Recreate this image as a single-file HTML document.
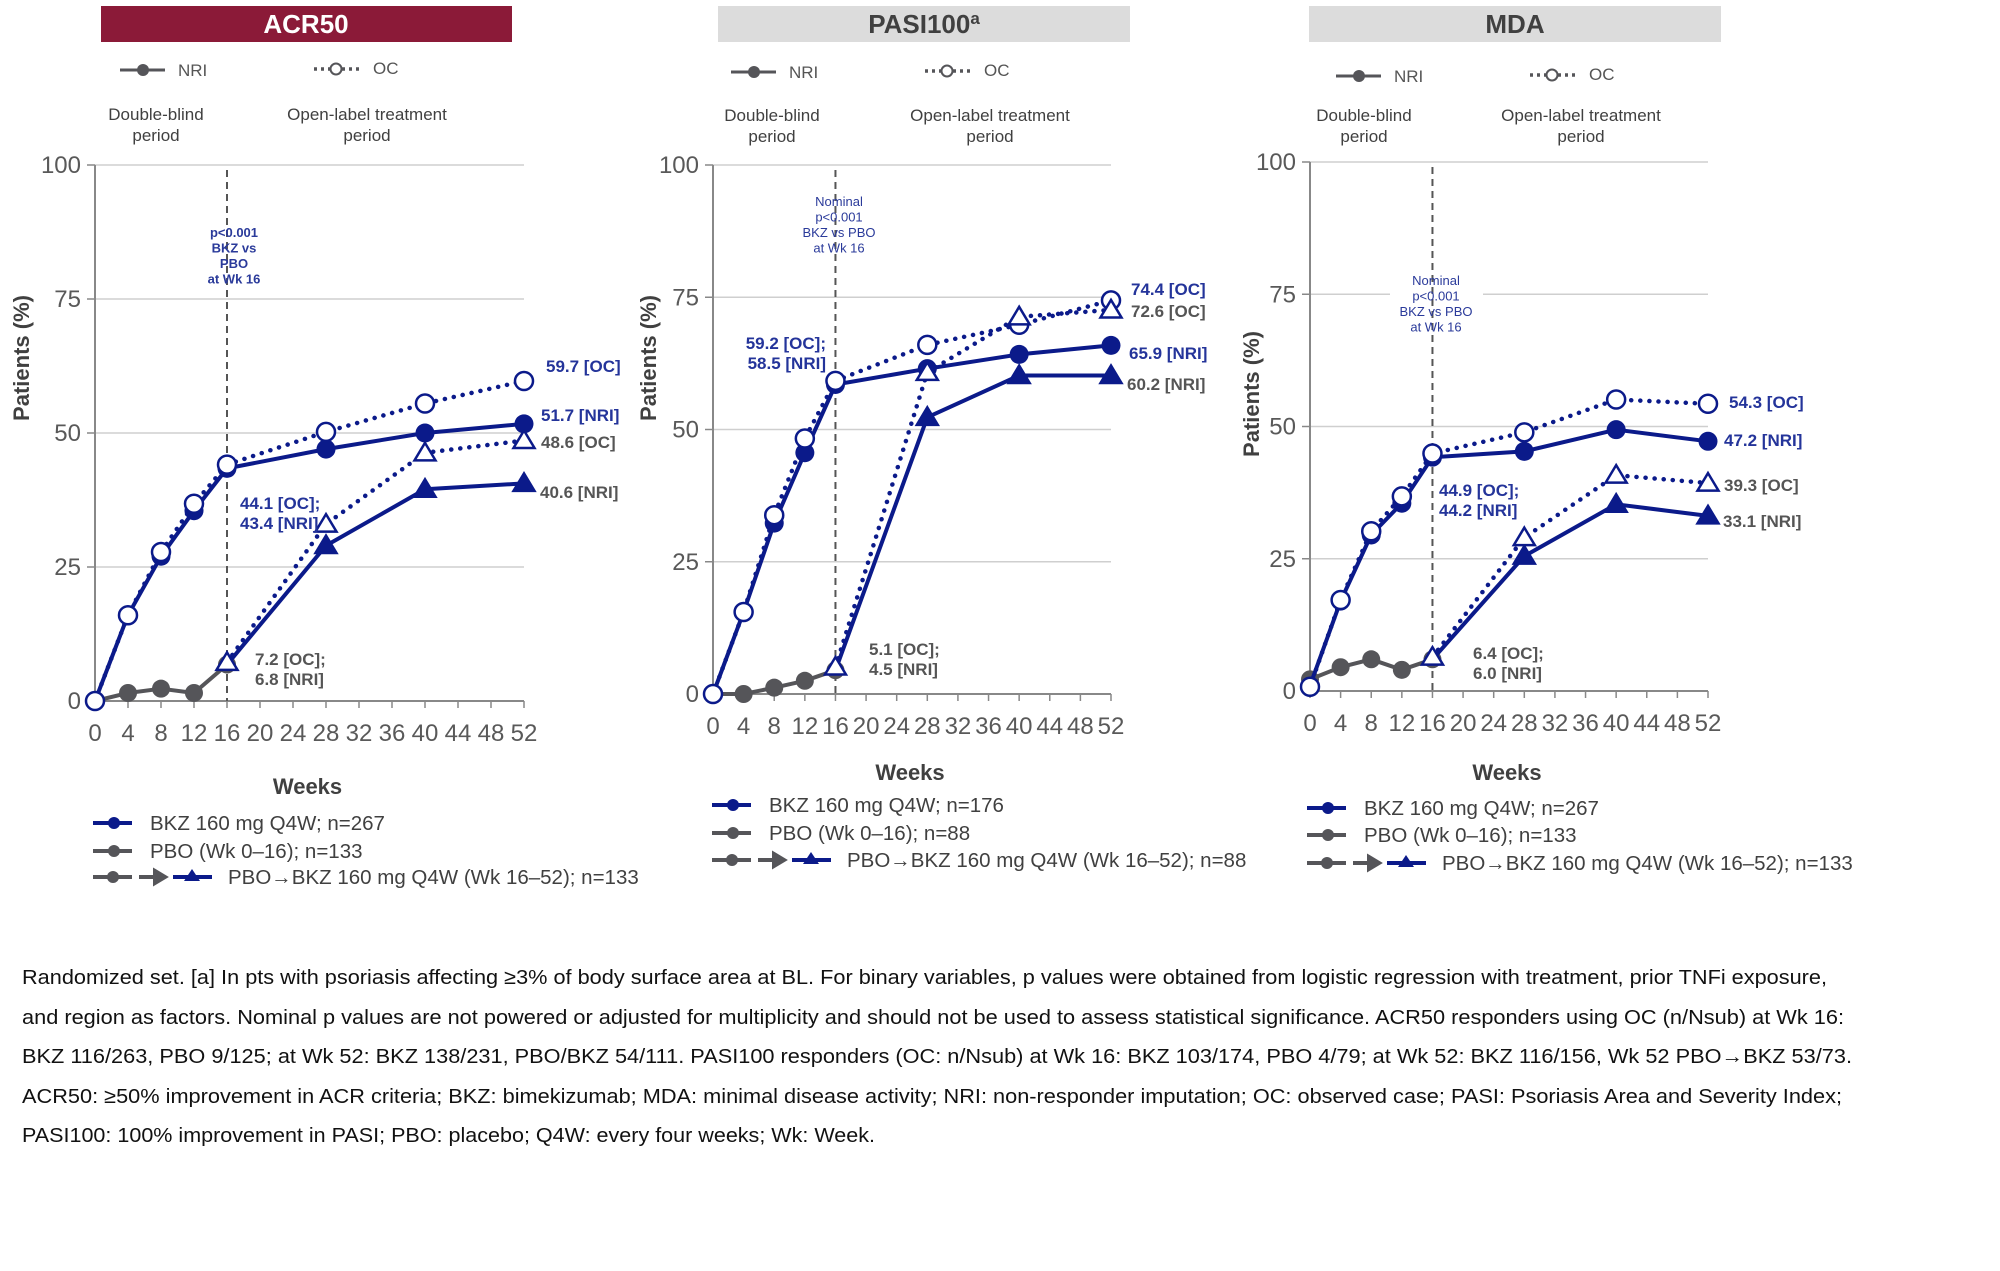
<!DOCTYPE html>
<html><head><meta charset="utf-8">
<style>
html,body{margin:0;padding:0;background:#fff;}
svg{display:block;font-family:"Liberation Sans",Arial,sans-serif;}
.tick{font-size:24px;fill:#595959;}
.per{font-size:17px;fill:#404040;}
.leg{font-size:20.5px;fill:#404040;}
.foot{font-size:20.5px;fill:#111;}
</style></head>
<body>
<svg id="fig" width="2000" height="1271" viewBox="0 0 2000 1271">
  <rect x="101" y="6" width="411" height="36" fill="#8b1a38"/>
  <text x="306" y="33" text-anchor="middle" font-size="26" font-weight="bold" fill="#fff">ACR50</text>
  <rect x="718" y="6" width="412" height="36" fill="#dcdcdc"/>
  <text x="924" y="33" text-anchor="middle" font-size="26" font-weight="bold" fill="#404040">PASI100<tspan font-size="17" dy="-9">a</tspan></text>
  <rect x="1309" y="6" width="412" height="36" fill="#dcdcdc"/>
  <text x="1515" y="33" text-anchor="middle" font-size="26" font-weight="bold" fill="#404040">MDA</text>

  <g>
    <text class="foot" x="22" y="984" textLength="1805" lengthAdjust="spacingAndGlyphs">Randomized set. [a] In pts with psoriasis affecting ≥3% of body surface area at BL. For binary variables, p values were obtained from logistic regression with treatment, prior TNFi exposure,</text>
    <text class="foot" x="22" y="1024" textLength="1822" lengthAdjust="spacingAndGlyphs">and region as factors. Nominal p values are not powered or adjusted for multiplicity and should not be used to assess statistical significance. ACR50 responders using OC (n/Nsub) at Wk 16:</text>
    <text class="foot" x="22" y="1063" textLength="1830" lengthAdjust="spacingAndGlyphs">BKZ 116/263, PBO 9/125; at Wk 52: BKZ 138/231, PBO/BKZ 54/111. PASI100 responders (OC: n/Nsub) at Wk 16: BKZ 103/174, PBO 4/79; at Wk 52: BKZ 116/156, Wk 52 PBO→BKZ 53/73.</text>
    <text class="foot" x="22" y="1103" textLength="1820" lengthAdjust="spacingAndGlyphs">ACR50: ≥50% improvement in ACR criteria; BKZ: bimekizumab; MDA: minimal disease activity; NRI: non-responder imputation; OC: observed case; PASI: Psoriasis Area and Severity Index;</text>
    <text class="foot" x="22" y="1142" textLength="853" lengthAdjust="spacingAndGlyphs">PASI100: 100% improvement in PASI; PBO: placebo; Q4W: every four weeks; Wk: Week.</text>
  </g>
</svg>
<script>
// ---- data ----
const weeks = [0, 4, 8, 12, 16, 28, 40, 52];
const pboWeeks = [0, 4, 8, 12, 16];
const switchWeeks = [16, 28, 40, 52];
const xTicks = [0, 4, 8, 12, 16, 20, 24, 28, 32, 36, 40, 44, 48, 52];
const yTicks = [0, 25, 50, 75, 100];

const acrBkzNri = [0, 16, 27, 35.5, 43.4, 47, 50, 51.7];
const acrBkzOc = [0, 16, 27.8, 36.8, 44.1, 50.2, 55.5, 59.7];
const acrPboNri = [0, 1.5, 2.3, 1.5, 6.8];
const acrSwNri = [6.8, 29, 39.5, 40.6];
const acrSwOc = [7.2, 33, 46.3, 48.6];

const pasiBkzNri = [0, 15.5, 32.3, 45.6, 58.5, 61.5, 64.2, 65.9];
const pasiBkzOc = [0, 15.5, 33.8, 48.3, 59.2, 66, 69.8, 74.4];
const pasiPboNri = [0, 0, 1.2, 2.5, 4.5];
const pasiSwNri = [4.5, 52.3, 60.2, 60.2];
const pasiSwOc = [5.1, 60.8, 71.3, 72.6];

const mdaBkzNri = [1, 17, 29.5, 35.5, 44.2, 45.3, 49.4, 47.2];
const mdaBkzOc = [0.8, 17.2, 30.2, 36.8, 44.9, 48.9, 55.1, 54.3];
const mdaPboNri = [2.2, 4.5, 6, 4, 6.0];
const mdaSwNri = [6.0, 25.5, 35.3, 33.1];
const mdaSwOc = [6.4, 29, 40.8, 39.3];

const NS = 'http://www.w3.org/2000/svg';
const svg = document.getElementById('fig');
const BLUE = '#0b1a8a', GREY = '#555559', GRID = '#cfcfcf';
function mk(tag, attrs, parent) {
  const el = document.createElementNS(NS, tag);
  for (const k in attrs) el.setAttribute(k, attrs[k]);
  (parent || svg).appendChild(el);
  return el;
}
function txt(x, y, s, attrs, parent) {
  const el = mk('text', Object.assign({x: x, y: y}, attrs), parent);
  el.textContent = s;
  return el;
}

function chart(o) {
  const g = mk('g', {});
  
  
  const X = w => o.x0 + (o.x52 - o.x0) * w / 52;
  const Y = v => o.y0 - (o.y0 - o.y100) * v / 100;

  yTicks.forEach(t => {
    if (t > 0) {
      const gl = mk('line', {x1: o.x0, x2: o.x52, y1: Y(t), y2: Y(t), stroke: GRID, 'stroke-width': 1.5}, g);
      
      
    }
    const tk = mk('line', {x1: o.x0 - 8, x2: o.x0, y1: Y(t), y2: Y(t), stroke: '#888', 'stroke-width': 1.5}, g);
    
    
    const tl = txt(o.x0 - 14, Y(t) + 8, String(t), {class: 'tick', 'text-anchor': 'end'}, g);
    
    
  });
  const ya = mk('line', {x1: o.x0, x2: o.x0, y1: o.y100, y2: o.y0, stroke: '#888', 'stroke-width': 2}, g);
  
  
  const xa = mk('line', {x1: o.x0, x2: o.x52, y1: o.y0, y2: o.y0, stroke: '#888', 'stroke-width': 2}, g);
  
  
  xTicks.forEach(t => {
    const tk = mk('line', {x1: X(t), x2: X(t), y1: o.y0, y2: o.y0 + 7, stroke: '#888', 'stroke-width': 1.5}, g);
    
    
    const tl = txt(X(t), o.y0 + 40, String(t), {class: 'tick', 'text-anchor': 'middle'}, g);
    
    
  });
  const xt = txt((o.x0 + o.x52) / 2 - 2, o.weeksY, 'Weeks', {'font-size': 22, 'font-weight': 'bold', fill: '#404040', 'text-anchor': 'middle'}, g);
  
  
  const yt = txt(0, 0, 'Patients (%)', {'font-size': 22, 'font-weight': 'bold', fill: '#404040', 'text-anchor': 'middle', transform: 'translate(' + o.ylx + ',' + o.yly + ') rotate(-90)'}, g);
  
  

  if (o.annBg) {
    const bg = mk('rect', {x: o.annBg[0], y: o.annBg[1], width: o.annBg[2], height: o.annBg[3], fill: '#fff'}, g);
    
    
  }
  const dl = mk('line', {x1: X(16), x2: X(16), y1: o.dashTop, y2: o.y0, stroke: '#555', 'stroke-width': 2, 'stroke-dasharray': '7 5'}, g);
  
  
  o.ann.forEach((s, i) => {
    const a = txt(o.annX, o.annY + i * 15.5, s, {'font-size': 13, 'font-weight': o.annBold ? 'bold' : 'normal', fill: '#2a3a9a', 'text-anchor': 'middle'}, g);
    
    
  });

  const lx = o.legX;
  const l1 = mk('line', {x1: lx, x2: lx + 45, y1: o.legY, y2: o.legY, stroke: GREY, 'stroke-width': 3}, g);
  
  
  const l1d = mk('circle', {cx: lx + 23, cy: o.legY, r: 6, fill: GREY}, g);
  
  
  const l1t = txt(lx + 58, o.legY + 6, 'NRI', {'font-size': 17, fill: '#555'}, g);
  
  
  const ox = lx + 194;
  const l2 = mk('line', {x1: ox, x2: ox + 46, y1: o.legY - 1, y2: o.legY - 1, stroke: GREY, 'stroke-width': 3.5, 'stroke-dasharray': '3 4'}, g);
  
  
  const l2d = mk('circle', {cx: ox + 22, cy: o.legY - 1, r: 5.5, fill: '#fff', stroke: GREY, 'stroke-width': 2}, g);
  
  
  const l2t = txt(ox + 59, o.legY + 4, 'OC', {'font-size': 17, fill: '#555'}, g);
  
  
  [['Double-blind', 'period', o.per1], ['Open-label treatment', 'period', o.per2]].forEach(p => {
    const a = txt(p[2], o.perY, p[0], {class: 'per', 'text-anchor': 'middle'}, g);
    
    
    const b = txt(p[2], o.perY + 21, p[1], {class: 'per', 'text-anchor': 'middle'}, g);
    
    
  });

  function path(ws, vs, color, dotted) {
    const d = ws.map((w, i) => (i ? 'L' : 'M') + X(w).toFixed(1) + ' ' + Y(vs[i]).toFixed(1)).join(' ');
    const attrs = {d: d, fill: 'none', stroke: color, 'stroke-width': 4, 'stroke-linejoin': 'round'};
    if (dotted) { attrs['stroke-dasharray'] = '0.1 9'; attrs['stroke-linecap'] = 'round'; attrs['stroke-width'] = 4.5; }
    return mk('path', attrs, g);
  }
  function tri(x, y, filled, color) {
    const s = 10;
    return mk('path', {d: 'M' + x + ' ' + (y - s) + ' L' + (x + s * 1.05) + ' ' + (y + s * 0.75) + ' L' + (x - s * 1.05) + ' ' + (y + s * 0.75) + ' Z', fill: filled ? color : '#fff', stroke: color, 'stroke-width': 2.5}, g);
  }
  const pp = path(pboWeeks, o.pbo, GREY, false);
  
  
  pboWeeks.forEach((w, i) => {
    const c = mk('circle', {cx: X(w), cy: Y(o.pbo[i]), r: 9, fill: GREY}, g);
    
    
  });
  const swo = path(switchWeeks, o.swOc, BLUE, true);
  
  
  const swn = path(switchWeeks, o.swNri, BLUE, false);
  
  
  const bo = path(weeks, o.bkzOc, BLUE, true);
  
  
  const bn = path(weeks, o.bkzNri, BLUE, false);
  
  
  weeks.forEach((w, i) => {
    if (i > 0) {
      const c = mk('circle', {cx: X(w), cy: Y(o.bkzNri[i]), r: 9.5, fill: BLUE}, g);
      
      
    }
  });
  switchWeeks.forEach((w, i) => {
    if (i > 0) {
      const t = tri(X(w), Y(o.swNri[i]), true, BLUE);
      
      
    }
  });
  weeks.forEach((w, i) => {
    const c = mk('circle', {cx: X(w), cy: Y(o.bkzOc[i]), r: 9, fill: '#fff', stroke: BLUE, 'stroke-width': 2.5}, g);
    
    
  });
  switchWeeks.forEach((w, i) => {
    const t = tri(X(w), Y(o.swOc[i]), false, BLUE);
    
    
  });

  o.labels.forEach(L => {
    L.lines.forEach((s, i) => {
      const t = txt(L.x, L.y + i * 20, s, {'font-size': 17, 'font-weight': 'bold', fill: L.c === 'b' ? '#24349a' : '#555', 'text-anchor': L.anchor || 'start'}, g);
      
      
    });
  });

  const bl = o.bLegX, by = o.bLegY;
  const r1 = mk('line', {x1: bl, x2: bl + 39, y1: by[0], y2: by[0], stroke: BLUE, 'stroke-width': 4}, g);
  
  
  const r1c = mk('circle', {cx: bl + 21, cy: by[0], r: 6, fill: BLUE}, g);
  
  
  const r1t = txt(bl + 57, by[0] + 7, o.leg[0], {class: 'leg'}, g);
  
  
  const r2 = mk('line', {x1: bl, x2: bl + 39, y1: by[1], y2: by[1], stroke: GREY, 'stroke-width': 4}, g);
  
  
  const r2c = mk('circle', {cx: bl + 21, cy: by[1], r: 6, fill: GREY}, g);
  
  
  const r2t = txt(bl + 57, by[1] + 7, o.leg[1], {class: 'leg'}, g);
  
  
  const r3 = mk('line', {x1: bl, x2: bl + 39, y1: by[2], y2: by[2], stroke: GREY, 'stroke-width': 4}, g);
  
  
  const r3c = mk('circle', {cx: bl + 20, cy: by[2], r: 6, fill: GREY}, g);
  
  
  const ar = mk('path', {d: 'M' + (bl + 46) + ' ' + by[2] + ' H' + (bl + 66) + ' M' + (bl + 62) + ' ' + (by[2] - 6) + ' L' + (bl + 72) + ' ' + by[2] + ' L' + (bl + 62) + ' ' + (by[2] + 6) + ' Z', stroke: GREY, 'stroke-width': 4, fill: GREY}, g);
  
  
  const r3b = mk('line', {x1: bl + 80, x2: bl + 119, y1: by[2], y2: by[2], stroke: BLUE, 'stroke-width': 4}, g);
  
  
  const r3m = mk('path', {d: 'M' + (bl + 99) + ' ' + (by[2] - 8) + ' l8 12 h-16 Z', fill: BLUE}, g);
  
  
  const r3t = txt(bl + 135, by[2] + 7, o.leg[2], {class: 'leg'}, g);
  
  
}

chart({id: 'acr50', x0: 95, x52: 524, y0: 701, y100: 165, weeksY: 794, ylx: 29, yly: 358,
  dashTop: 170, ann: ['p<0.001', 'BKZ vs', 'PBO', 'at Wk 16'], annX: 234, annY: 237, annBold: true,
  legX: 120, legY: 70, per1: 156, per2: 367, perY: 120,
  bkzNri: acrBkzNri, bkzOc: acrBkzOc, pbo: acrPboNri, swNri: acrSwNri, swOc: acrSwOc,
  labels: [
    {x: 546, y: 372, lines: ['59.7 [OC]'], c: 'b'},
    {x: 541, y: 421, lines: ['51.7 [NRI]'], c: 'b'},
    {x: 541, y: 448, lines: ['48.6 [OC]'], c: 'g'},
    {x: 540, y: 498, lines: ['40.6 [NRI]'], c: 'g'},
    {x: 240, y: 509, lines: ['44.1 [OC];', '43.4 [NRI]'], c: 'b'},
    {x: 255, y: 665, lines: ['7.2 [OC];', '6.8 [NRI]'], c: 'g'}],
  bLegX: 93, bLegY: [823, 851, 877],
  leg: ['BKZ 160 mg Q4W; n=267', 'PBO (Wk 0–16); n=133', 'PBO→BKZ 160 mg Q4W (Wk 16–52); n=133']});

chart({id: 'pasi100', x0: 713, x52: 1111, y0: 694, y100: 165, weeksY: 780, ylx: 656, yly: 358,
  dashTop: 170, ann: ['Nominal', 'p<0.001', 'BKZ vs PBO', 'at Wk 16'], annX: 839, annY: 206, annBold: false,
  annBg: [806, 190, 66, 62],
  legX: 731, legY: 72, per1: 772, per2: 990, perY: 121,
  bkzNri: pasiBkzNri, bkzOc: pasiBkzOc, pbo: pasiPboNri, swNri: pasiSwNri, swOc: pasiSwOc,
  labels: [
    {x: 1131, y: 295, lines: ['74.4 [OC]'], c: 'b'},
    {x: 1131, y: 317, lines: ['72.6 [OC]'], c: 'g'},
    {x: 1129, y: 359, lines: ['65.9 [NRI]'], c: 'b'},
    {x: 1127, y: 390, lines: ['60.2 [NRI]'], c: 'g'},
    {x: 826, y: 349, lines: ['59.2 [OC];', '58.5 [NRI]'], c: 'b', anchor: 'end'},
    {x: 869, y: 655, lines: ['5.1 [OC];', '4.5 [NRI]'], c: 'g'}],
  bLegX: 712, bLegY: [805, 833, 860],
  leg: ['BKZ 160 mg Q4W; n=176', 'PBO (Wk 0–16); n=88', 'PBO→BKZ 160 mg Q4W (Wk 16–52); n=88']});

chart({id: 'mda', x0: 1310, x52: 1708, y0: 691, y100: 162, weeksY: 780, ylx: 1259, yly: 394,
  dashTop: 167, ann: ['Nominal', 'p<0.001', 'BKZ vs PBO', 'at Wk 16'], annX: 1436, annY: 285, annBold: false,
  annBg: [1390, 268, 93, 64],
  legX: 1336, legY: 76, per1: 1364, per2: 1581, perY: 121,
  bkzNri: mdaBkzNri, bkzOc: mdaBkzOc, pbo: mdaPboNri, swNri: mdaSwNri, swOc: mdaSwOc,
  labels: [
    {x: 1729, y: 408, lines: ['54.3 [OC]'], c: 'b'},
    {x: 1724, y: 446, lines: ['47.2 [NRI]'], c: 'b'},
    {x: 1724, y: 491, lines: ['39.3 [OC]'], c: 'g'},
    {x: 1723, y: 527, lines: ['33.1 [NRI]'], c: 'g'},
    {x: 1439, y: 496, lines: ['44.9 [OC];', '44.2 [NRI]'], c: 'b'},
    {x: 1473, y: 659, lines: ['6.4 [OC];', '6.0 [NRI]'], c: 'g'}],
  bLegX: 1307, bLegY: [808, 835, 863],
  leg: ['BKZ 160 mg Q4W; n=267', 'PBO (Wk 0–16); n=133', 'PBO→BKZ 160 mg Q4W (Wk 16–52); n=133']});
</script>
</body></html>
